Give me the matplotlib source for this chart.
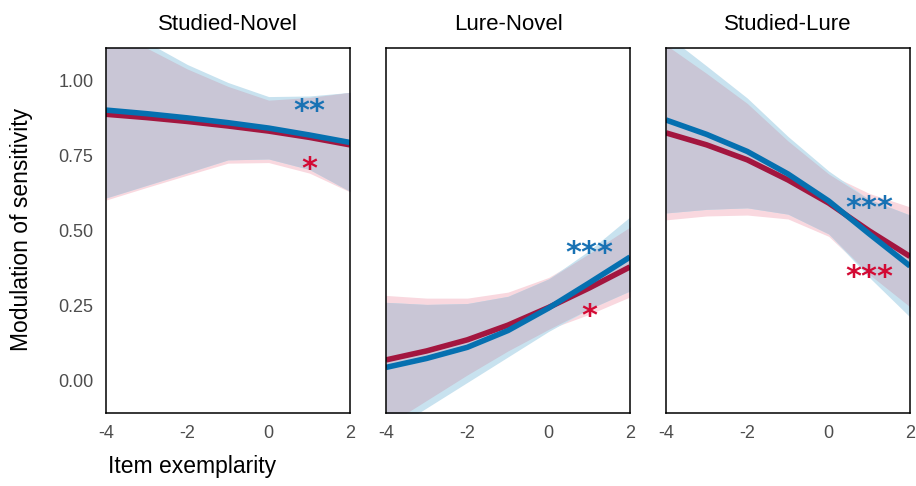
import numpy as np
import matplotlib
matplotlib.use('Agg')
import matplotlib.pyplot as plt

plt.rcParams['font.family'] = ['Liberation Sans', 'DejaVu Sans']

# item exemplarity grid
x_grid = [-4, -3, -2, -1, 0, 1, 2]
panels = ['Studied-Novel', 'Lure-Novel', 'Studied-Lure']

# Studied-Novel
sn_blue_fit = [0.903, 0.891, 0.877, 0.861, 0.843, 0.820, 0.795]
sn_blue_lo = [0.610, 0.652, 0.694, 0.737, 0.740, 0.705, 0.632]
sn_blue_hi = [1.280, 1.130, 1.055, 0.995, 0.948, 0.950, 0.962]
sn_red_fit = [0.889, 0.878, 0.865, 0.850, 0.833, 0.812, 0.787]
sn_red_lo = [0.603, 0.645, 0.686, 0.726, 0.728, 0.693, 0.630]
sn_red_hi = [1.260, 1.110, 1.040, 0.982, 0.936, 0.945, 0.962]

# Lure-Novel
ln_blue_fit = [0.045, 0.075, 0.112, 0.168, 0.243, 0.327, 0.413]
ln_blue_lo = [-0.175, -0.090, -0.005, 0.080, 0.165, 0.240, 0.300]
ln_blue_hi = [0.262, 0.255, 0.258, 0.282, 0.340, 0.435, 0.547]
ln_red_fit = [0.070, 0.100, 0.137, 0.186, 0.245, 0.310, 0.380]
ln_red_lo = [-0.150, -0.065, 0.020, 0.100, 0.172, 0.222, 0.280]
ln_red_hi = [0.285, 0.276, 0.276, 0.296, 0.345, 0.425, 0.513]

# Studied-Lure
sl_blue_fit = [0.870, 0.822, 0.765, 0.690, 0.600, 0.490, 0.383]
sl_blue_lo = [0.560, 0.572, 0.577, 0.556, 0.490, 0.345, 0.213]
sl_blue_hi = [1.155, 1.050, 0.943, 0.815, 0.700, 0.605, 0.553]
sl_red_fit = [0.827, 0.787, 0.737, 0.670, 0.593, 0.500, 0.415]
sl_red_lo = [0.537, 0.550, 0.553, 0.540, 0.482, 0.355, 0.247]
sl_red_hi = [1.120, 1.025, 0.925, 0.800, 0.690, 0.625, 0.580]

# significance stars: (text, x, y)
blue_stars = [('**', 1.0, 0.927), ('***', 1.0, 0.453), ('***', 1.0, 0.603)]
red_stars = [('*', 1.0, 0.733), ('*', 1.0, 0.243), ('***', 1.0, 0.375)]

blue_data = [(sn_blue_fit, sn_blue_lo, sn_blue_hi),
             (ln_blue_fit, ln_blue_lo, ln_blue_hi),
             (sl_blue_fit, sl_blue_lo, sl_blue_hi)]
red_data = [(sn_red_fit, sn_red_lo, sn_red_hi),
            (ln_red_fit, ln_red_lo, ln_red_hi),
            (sl_red_fit, sl_red_lo, sl_red_hi)]

BLUE = '#0570B0'
RED = '#A3163F'
BLUE_STAR = '#1872B4'
RED_STAR = '#D30A34'
LIGHT_BLUE = '#C8E2EF'
PINK = '#F9D8DF'
OVERLAP = '#C9C6D6'
STAR_FS = 22

fig = plt.figure(figsize=(9.16, 4.86), dpi=100)
lefts = [106 / 916, 386 / 916, 666 / 916]
x = np.array(x_grid)

for i in range(3):
    ax = fig.add_axes([lefts[i], 1 - 413 / 486, 244 / 916, 365 / 486])
    bfit, blo, bhi = [np.array(a) for a in blue_data[i]]
    rfit, rlo, rhi = [np.array(a) for a in red_data[i]]
    ax.fill_between(x, rlo, rhi, color=PINK, lw=0)
    ax.fill_between(x, blo, bhi, color=LIGHT_BLUE, lw=0)
    ax.fill_between(x, np.maximum(blo, rlo), np.minimum(bhi, rhi), color=OVERLAP, lw=0)
    ax.plot(x, rfit, color=RED, lw=4, solid_capstyle='butt')
    ax.plot(x, bfit, color=BLUE, lw=4, solid_capstyle='butt')

    for (s, sx, sy), col in [(blue_stars[i], BLUE_STAR), (red_stars[i], RED_STAR)]:
        ax.annotate(s, (sx, sy), xytext=(0, -0.56 * STAR_FS), textcoords='offset points',
                    ha='center', va='baseline', fontsize=STAR_FS, color=col,
                    family='DejaVu Sans', fontweight='bold')

    ax.set_xlim(-4, 2)
    ax.set_ylim(-0.107, 1.11)
    ax.set_xticks([-4, -2, 0, 2])
    ax.set_xticklabels(['-4', '-2', '0', '2'])
    ax.set_yticks([0, 0.25, 0.5, 0.75, 1.0])
    if i == 0:
        ax.set_yticklabels(['0.00', '0.25', '0.50', '0.75', '1.00'])
    else:
        ax.set_yticklabels([])
    ax.tick_params(length=0, labelsize=13, labelcolor='#4D4D4D', pad=9)
    for sp in ax.spines.values():
        sp.set_color('black')
        sp.set_linewidth(1.1)
    ax.set_title(panels[i], fontsize=16, pad=13)

fig.text(0.024, 0.527, 'Modulation of sensitivity', rotation=90,
         ha='center', va='center', fontsize=16.5)
fig.text(108 / 916, 1 - 466 / 486, 'Item exemplarity', ha='left', va='center', fontsize=16.5)

fig.savefig('out.png', dpi=100)
